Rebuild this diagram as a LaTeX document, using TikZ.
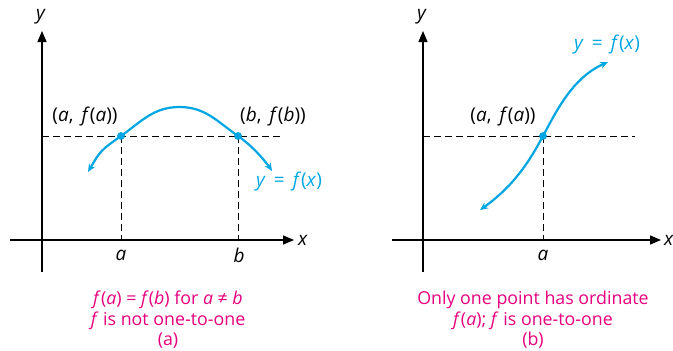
\documentclass[tikz,border=0pt]{standalone}
\usepackage{fontspec}
\setmainfont{Open Sans}
\usetikzlibrary{arrows.meta}
\definecolor{fcyan}{RGB}{0,166,226}
\definecolor{fpink}{RGB}{230,0,126}
\newcommand{\mi}[1]{\textit{#1}}

\begin{document}
\begin{tikzpicture}[
  x=1pt, y=-1pt,
  font=\fontsize{19}{22}\selectfont,
  axis/.style={line width=1.3pt, -{Triangle[length=11pt,width=9pt]}},
  guide/.style={line width=1pt, dash pattern=on 7pt off 4pt},
  graph/.style={line width=2.2pt, color=fcyan, {Stealth[length=8pt,width=7pt]}-{Stealth[length=8pt,width=7pt]}},
  dot/.style={circle, fill=fcyan, inner sep=0pt, minimum size=7.5pt},
  caption/.style={align=center, text=fpink, font=\fontsize{17.8}{20.5}\selectfont}
]
  \useasboundingbox (0,0) rectangle (673,351);

  % (a) f is not one-to-one
  \coordinate (OA) at (42,240);
  \draw[axis] (10,240) -- (294,240);
  \draw[axis] (42,272) -- (42,31);
  \node (xA) at (303,240) {\mi{x}};
  \node (yA) at (41,17) {\mi{y}};
  \node[dot] (Pa) at (121,136) {};
  \node[dot] (Pb) at (238,136) {};
  \draw[guide] (OA |- Pa) -- (283,136);
  \draw[guide] (Pa.center) -- (Pa |- OA);
  \draw[guide] (Pb.center) -- (Pb |- OA);
  \draw[graph] plot[smooth, tension=0.8] coordinates {(88,172) (121,136) (179.5,107) (238,136) (272,171)};
  \node[dot] at (Pa) {};
  \node[dot] at (Pb) {};
  \node (la) at (85,117) {(\mi{a},\, \mi{f}(\mi{a}))};
  \node (lb) at (273,117) {(\mi{b},\, \mi{f}(\mi{b}))};
  \node (ta) at (121,255) {\mi{a}};
  \node (tb) at (239,255) {\mi{b}};
  \node[text=fcyan] (fA) at (289,182) {\mi{y}\, =\, \mi{f}(\mi{x})};
  \node[caption] (capA) at (168,320) {\mi{f}(\mi{a}) = \mi{f}(\mi{b}) for \mi{a} ≠ \mi{b}\\\mi{f} is not one-to-one\\(a)};

  % (b) f is one-to-one
  \coordinate (OB) at (423,240);
  \draw[axis] (392,240) -- (661,240);
  \draw[axis] (423,272) -- (423,31);
  \node (xB) at (669,240) {\mi{x}};
  \node (yB) at (422,17) {\mi{y}};
  \node[dot] (Pc) at (543,136) {};
  \draw[guide] (OB |- Pc) -- (635,136);
  \draw[guide] (Pc.center) -- (Pc |- OB);
  \draw[graph] (480,210) .. controls (515,185) and (530,160) .. (543,136)
    .. controls (556,112) and (572,78) .. (608,62);
  \node[dot] at (Pc) {};
  \node (lc) at (503,117) {(\mi{a},\, \mi{f}(\mi{a}))};
  \node (tc) at (543,255) {\mi{a}};
  \node[text=fcyan] (fB) at (607,45) {\mi{y}\, =\, \mi{f}(\mi{x})};
  \node[caption] (capB) at (533,320) {Only one point has ordinate\\\mi{f}(\mi{a}); \mi{f} is one-to-one\\(b)};
\end{tikzpicture}
\end{document}
